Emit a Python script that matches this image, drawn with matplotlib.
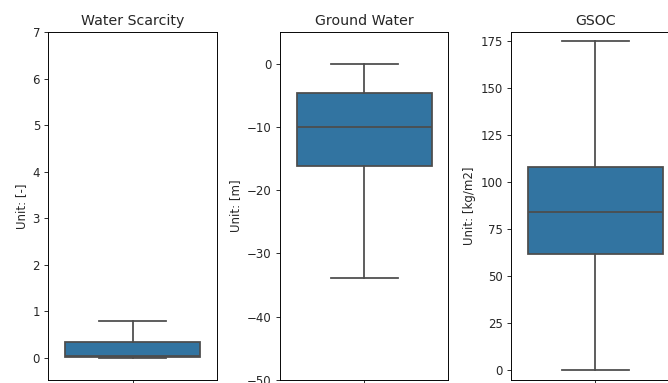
import matplotlib
matplotlib.use("Agg")
import matplotlib.pyplot as plt

titles = ["Water Scarcity", "Ground Water", "GSOC"]
ylabels = ["Unit: [-]", "Unit: [m]", "Unit: [kg/m2]"]
whislo = [0.0, -33.9, 0.0]
q1 = [0.02, -16.2, 61.6]
med = [0.04, -10.0, 84.0]
q3 = [0.33, -4.6, 108.0]
whishi = [0.79, 0.0, 175.0]
ylims = [(-0.48, 7.0), (-50.0, 5.0), (-5.3, 180.0)]

W, H, DPI = 668, 383, 72
S = 1.18
plt.rcParams.update({
    "font.size": 10 * S,
    "axes.linewidth": 0.8 * S,
    "xtick.major.size": 3.5 * S,
    "ytick.major.size": 3.5 * S,
    "xtick.major.width": 0.8 * S,
    "ytick.major.width": 0.8 * S,
    "xtick.major.pad": 3.5 * S,
    "ytick.major.pad": 3.5 * S,
    "axes.titlepad": 6.0 * S,
    "axes.labelpad": 4.0 * S,
    "text.color": "#262626",
    "axes.labelcolor": "#262626",
    "xtick.color": "#262626",
    "ytick.color": "#262626",
})
fig = plt.figure(figsize=(W / DPI, H / DPI), dpi=DPI)

lefts_px = [48.3, 280.0, 511.0]
ax_w_px = 168.4
bottom_px = 3.0
height_px = 348.0

box_color = "#3274a1"
line_color = "#4d4d4d"
lw = 1.5 * S

for i in range(3):
    ax = fig.add_axes([lefts_px[i] / W, bottom_px / H, ax_w_px / W, height_px / H])
    stats = [dict(whislo=whislo[i], q1=q1[i], med=med[i], q3=q3[i], whishi=whishi[i], fliers=[])]
    ax.bxp(stats, positions=[0], widths=0.8, patch_artist=True, showfliers=False,
           boxprops=dict(facecolor=box_color, edgecolor=line_color, linewidth=lw),
           medianprops=dict(color=line_color, linewidth=lw),
           whiskerprops=dict(color=line_color, linewidth=lw),
           capprops=dict(color=line_color, linewidth=lw))
    ax.set_xlim(-0.5, 0.5)
    ax.set_ylim(*ylims[i])
    ax.set_xticks([0])
    ax.set_xticklabels([""])
    ax.set_title(titles[i])
    ax.set_ylabel(ylabels[i])

fig.savefig("out.png", dpi=DPI)
